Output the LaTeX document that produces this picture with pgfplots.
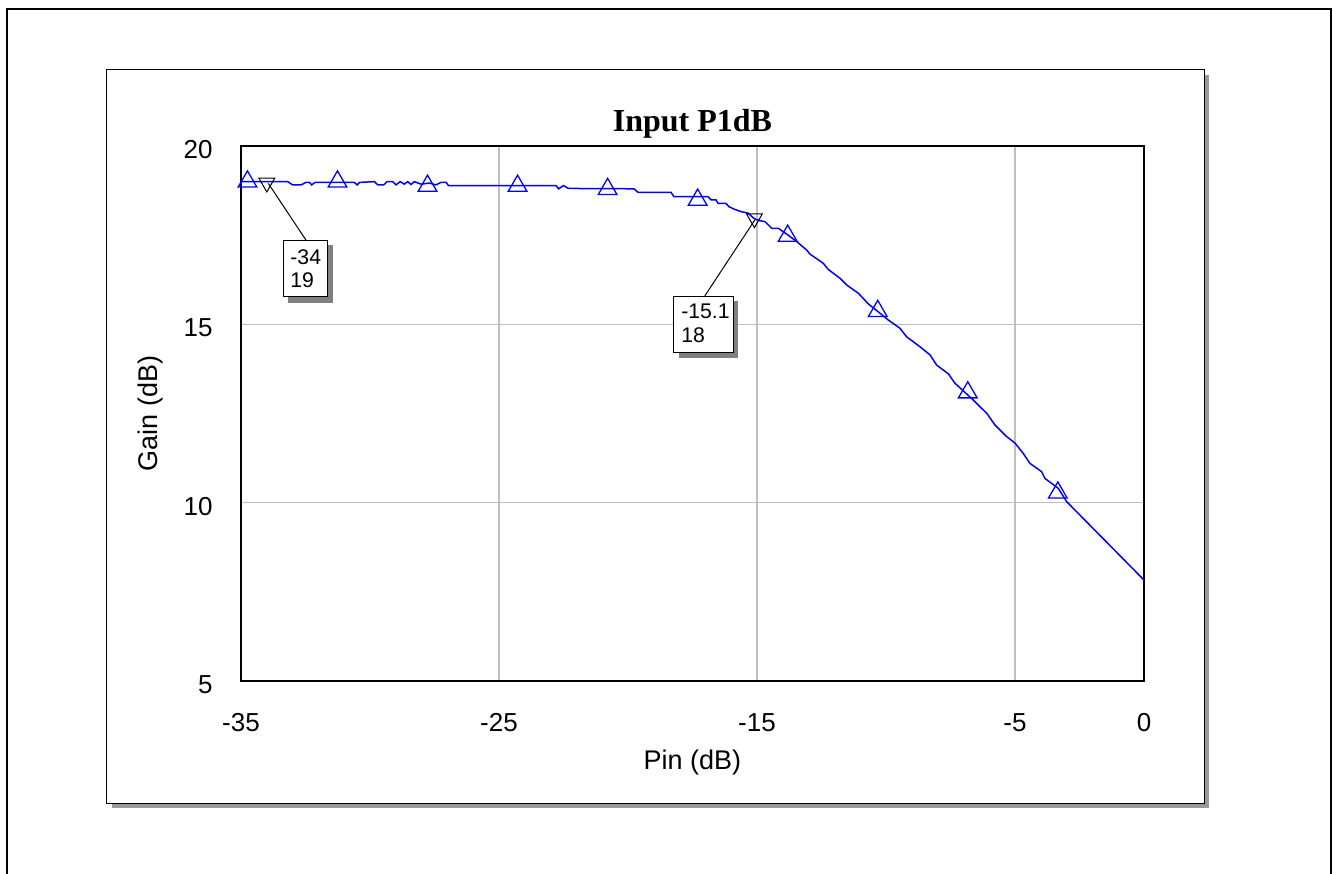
\documentclass[border=0pt]{standalone}
\usepackage{fontspec}
\setmainfont{Liberation Sans}
\newfontfamily\serifbold{Liberation Serif}
\usepackage{pgfplots}
\pgfplotsset{compat=1.18}
\begin{document}
\begin{tikzpicture}[x=1pt,y=1pt]
\useasboundingbox (-120.5,-96) rectangle (546,340.5);
% outer frame (open at bottom)
\draw[line width=1pt] (-116.75,-97) -- (-116.75,336) -- (544.75,336) -- (544.75,-97);
% panel with shadow
\fill[black!40] (-64.5,-63.5) rectangle (484,303);
\draw[fill=white, line width=0.5pt] (-67,-61) rectangle (481.5,305.5);
\begin{axis}[
  at={(0,0)}, anchor=south west,
  scale only axis, width=451.5pt, height=267.5pt,
  xmin=-35, xmax=0, ymin=5, ymax=20,
  xtick={-35,-25,-15,-5,0}, xticklabels={-35,-25,-15,-5,0},
  ytick={5,10,15,20}, yticklabels={5,10,15,20},
  grid=major, major grid style={black!25, line width=0.7pt},
  major tick length=0pt,
  tick label style={font=\fontsize{13}{15}\selectfont},
  xticklabel style={yshift=-12.7pt},
  yticklabel style={xshift=-10.7pt, yshift=-1.8pt},
  axis line style={line width=0.6pt},
  title={\serifbold\bfseries Input P1dB},
  title style={at={(axis description cs:0.5,1.0056)}, anchor=base, font=\fontsize{16}{19}\selectfont},
  xlabel={Pin (dB)},
  xlabel style={at={(axis description cs:0.5,-0.165)}, anchor=base, font=\fontsize{13.5}{16}\selectfont},
  ylabel={Gain (dB)},
  ylabel style={at={(axis description cs:-0.093,0.5)}, anchor=base, rotate=0, font=\fontsize{13.5}{16}\selectfont},
]
\addplot[blue, line width=0.75pt] table {
x y
-35.00 19.00
-33.19 19.00
-33.00 18.91
-32.67 18.91
-32.48 18.98
-32.35 18.98
-32.26 18.91
-32.13 18.98
-30.61 18.98
-30.50 18.91
-30.40 18.98
-29.83 19.00
-29.70 18.91
-29.47 18.91
-29.34 19.00
-29.12 19.00
-28.99 18.91
-28.83 19.00
-28.67 18.93
-28.54 19.00
-28.41 18.92
-28.28 19.00
-28.02 18.93
-27.70 18.96
-27.44 18.91
-27.25 18.98
-27.05 18.98
-26.96 18.89
-22.79 18.89
-22.69 18.80
-22.50 18.89
-22.31 18.81
-19.77 18.80
-19.61 18.70
-18.33 18.70
-18.22 18.58
-16.90 18.58
-16.78 18.49
-16.59 18.49
-16.51 18.39
-16.20 18.39
-16.09 18.30
-15.89 18.23
-15.62 18.16
-15.35 18.12
-15.12 17.97
-14.92 17.91
-14.69 17.88
-14.43 17.69
-14.17 17.69
-13.79 17.50
-13.46 17.32
-13.07 17.08
-12.95 16.97
-12.43 16.71
-12.24 16.54
-11.78 16.29
-11.52 16.10
-11.07 15.87
-10.68 15.57
-10.30 15.35
-9.91 15.12
-9.46 14.89
-9.20 14.65
-8.68 14.37
-8.29 14.14
-8.04 13.86
-7.58 13.61
-7.33 13.35
-6.62 12.88
-6.36 12.69
-6.10 12.51
-5.78 12.18
-5.32 11.85
-5.00 11.67
-4.68 11.38
-4.42 11.10
-3.97 10.87
-3.84 10.68
-3.32 10.40
-3.00 10.03
0.00 7.83
};
\addplot[only marks, blue, mark=triangle, mark size=5.4pt, mark options={line width=0.65pt}] table {
x y
-34.75 19.00
-31.26 19.00
-27.77 18.88
-24.28 18.88
-20.79 18.79
-17.30 18.49
-13.81 17.48
-10.32 15.37
-6.83 13.09
-3.34 10.28
};
\addplot[only marks, black, mark=triangle, mark size=4.6pt, mark options={rotate=180, line width=0.5pt}] coordinates {(-34,18.97) (-15.1,17.97)};
% marker annotations
\draw[black, line width=0.5pt] (axis cs:-33.94,18.95) -- (axis cs:-32.48,17.36);
\fill[black!50] ([xshift=2.5pt,yshift=-2.5pt]axis cs:-33.37,17.36) rectangle ([xshift=2.5pt,yshift=-3pt]axis cs:-31.63,15.77);
\draw[fill=white, line width=0.5pt] (axis cs:-33.37,17.36) rectangle (axis cs:-31.63,15.77);
\node[anchor=base west, inner sep=0pt, font=\fontsize{10.6}{12}\selectfont] at (axis cs:-33.10,16.68) {-34};
\node[anchor=base west, inner sep=0pt, font=\fontsize{10.6}{12}\selectfont] at (axis cs:-33.10,16.03) {19};
\draw[black, line width=0.5pt] (axis cs:-15.08,17.93) -- (axis cs:-17.02,15.80);
\fill[black!50] ([xshift=2.5pt,yshift=-2.5pt]axis cs:-18.22,15.79) rectangle ([xshift=2.5pt,yshift=-3pt]axis cs:-15.93,14.22);
\draw[fill=white, line width=0.5pt] (axis cs:-18.22,15.79) rectangle (axis cs:-15.93,14.22);
\node[anchor=base west, inner sep=0pt, font=\fontsize{10.6}{12}\selectfont] at (axis cs:-17.95,15.16) {-15.1};
\node[anchor=base west, inner sep=0pt, font=\fontsize{10.6}{12}\selectfont] at (axis cs:-17.95,14.49) {18};
\end{axis}
\end{tikzpicture}
\end{document}
